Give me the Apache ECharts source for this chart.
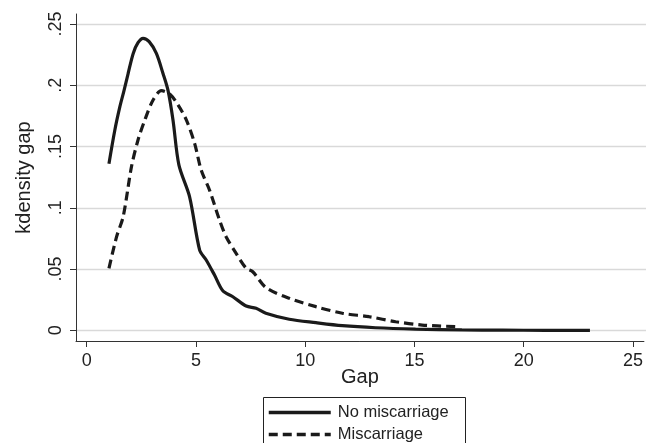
<!DOCTYPE html>
<html>
<head>
<meta charset="utf-8">
<script src="https://cdn.jsdelivr.net/npm/echarts@6/dist/echarts.min.js"></script>
<style>
  html, body { margin: 0; padding: 0; background: #fff; }
  #chart { width: 646px; height: 443px; }
</style>
</head>
<body>
<div id="chart"></div>
<script>
// kernel density of gap
const gapNoMis = [1.02, 1.29, 1.52, 1.70, 1.90, 2.13, 2.35, 2.58, 2.86, 3.19, 3.49, 3.72, 3.95, 4.22, 4.71, 5.17, 5.47, 5.85, 6.23, 6.69, 7.30, 7.75, 8.20, 9.27, 10.49, 11.70, 13.22, 15.05, 17.17, 19.0, 21.0, 23.03]
const densNoMis = [0.136, 0.1635, 0.1825, 0.195, 0.2098, 0.226, 0.2347, 0.2383, 0.2356, 0.226, 0.2098, 0.196, 0.1717, 0.135, 0.109, 0.0655, 0.0574, 0.0451, 0.0323, 0.0274, 0.0198, 0.018, 0.0139, 0.009, 0.0062, 0.0038, 0.0021, 0.001, 0.0003, 0.0001, 0.0, 0.0]

const gapMis = [1.02, 1.37, 1.67, 2.05, 2.35, 2.66, 3.04, 3.42, 3.80, 4.18, 4.56, 4.94, 5.24, 5.62, 6.08, 6.38, 6.84, 7.30, 7.60, 8.21, 9.27, 10.49, 11.70, 12.92, 14.14, 15.35, 16.94]
const densMis = [0.0506, 0.0764, 0.0927, 0.1335, 0.1553, 0.1716, 0.188, 0.1956, 0.1929, 0.184, 0.1717, 0.1526, 0.1308, 0.1145, 0.09, 0.0764, 0.0628, 0.0506, 0.0478, 0.0348, 0.0261, 0.0193, 0.0139, 0.0111, 0.007, 0.0043, 0.003]

const yTicks = [0, 0.05, 0.1, 0.15, 0.2, 0.25]
const yTickLabels = ['0', '.05', '.1', '.15', '.2', '.25']
const xTicks = [0, 5, 10, 15, 20, 25]

const font = 'Liberation Sans, Arial, Helvetica, sans-serif'
const ink = '#222222'

const zip = (xs, ys) => xs.map((x, i) => [x, ys[i]])

// one legend per row, so the box running off the page can't wrap it
const legendRow = (name, top) => ({
  left: 267,
  top,
  padding: 0,
  itemWidth: 62,
  itemHeight: 14,
  itemGap: 10,
  itemStyle: { color: 'rgba(0,0,0,0)', borderWidth: 0 },
  lineStyle: { width: 3.5 },
  textStyle: { fontSize: 16.5, color: ink, fontFamily: font, padding: [0, 0, 0, 2] },
  data: [name]
})

const chart = echarts.init(document.getElementById('chart'), null, { renderer: 'canvas' })

chart.setOption({
  animation: false,
  backgroundColor: '#ffffff',
  textStyle: { fontFamily: font, color: ink },
  grid: [
    // main plot area, axes sit a bit outside the data range like Stata
    { left: 76, right: 0, top: 14, bottom: 102 },
    // grid lines only, exactly 0 .. .25
    { left: 76, right: 0, top: 24, bottom: 112.7 }
  ],
  xAxis: [
    {
      type: 'value',
      gridIndex: 0,
      min: -0.488,
      max: 25.5,
      name: 'Gap',
      nameLocation: 'middle',
      nameGap: 26,
      nameMoveOverlap: false,
      nameTextStyle: { fontSize: 20, color: ink, fontFamily: font },
      axisLine: { show: true, onZero: false, lineStyle: { color: '#333', width: 1 } },
      axisTick: { show: true, length: 6, customValues: xTicks, lineStyle: { color: '#333' } },
      axisLabel: { customValues: xTicks, fontSize: 18, color: ink, margin: 11, fontFamily: font },
      splitLine: { show: false }
    },
    {
      type: 'value',
      gridIndex: 1,
      min: 0,
      max: 25,
      show: false
    }
  ],
  yAxis: [
    {
      type: 'value',
      gridIndex: 0,
      min: -0.00873,
      max: 0.25816,
      name: 'kdensity gap',
      nameLocation: 'middle',
      nameRotate: 90,
      nameGap: 42,
      nameMoveOverlap: false,
      nameTextStyle: { fontSize: 20, color: ink, fontFamily: font },
      axisLine: { show: true, onZero: false, lineStyle: { color: '#333', width: 1 } },
      axisTick: { show: true, length: 6, customValues: yTicks, lineStyle: { color: '#333' } },
      axisLabel: {
        customValues: yTicks,
        rotate: 90,
        fontSize: 18,
        color: ink,
        margin: 11,
        fontFamily: font,
        formatter: v => yTickLabels[yTicks.findIndex(t => Math.abs(t - v) < 1e-9)] ?? ''
      },
      splitLine: { show: false }
    },
    {
      type: 'value',
      gridIndex: 1,
      min: 0,
      max: 0.25,
      interval: 0.05,
      axisLine: { show: false },
      axisTick: { show: false },
      axisLabel: { show: false },
      splitLine: { show: true, lineStyle: { color: '#d9d9d9', width: 1.3 } }
    }
  ],
  legend: [
    legendRow('No miscarriage', 404),
    legendRow('Miscarriage', 426)
  ],
  // legend frame, runs off the bottom edge like the original
  graphic: [{
    type: 'rect',
    left: 261,
    top: 395,
    shape: { width: 202, height: 70 },
    style: { fill: 'none', stroke: '#222', lineWidth: 1 },
    silent: true
  }],
  series: [
    {
      name: 'No miscarriage',
      type: 'line',
      xAxisIndex: 0,
      yAxisIndex: 0,
      data: zip(gapNoMis, densNoMis),
      symbol: 'none',
      smooth: 0.3,
      lineStyle: { color: '#1a1a1a', width: 3.2 },
      itemStyle: { color: '#1a1a1a' }
    },
    {
      name: 'Miscarriage',
      type: 'line',
      xAxisIndex: 0,
      yAxisIndex: 0,
      data: zip(gapMis, densMis),
      symbol: 'none',
      smooth: 0.3,
      lineStyle: { color: '#1a1a1a', width: 3.2, type: [9, 5] },
      itemStyle: { color: '#1a1a1a' }
    }
  ]
})
</script>
</body>
</html>
